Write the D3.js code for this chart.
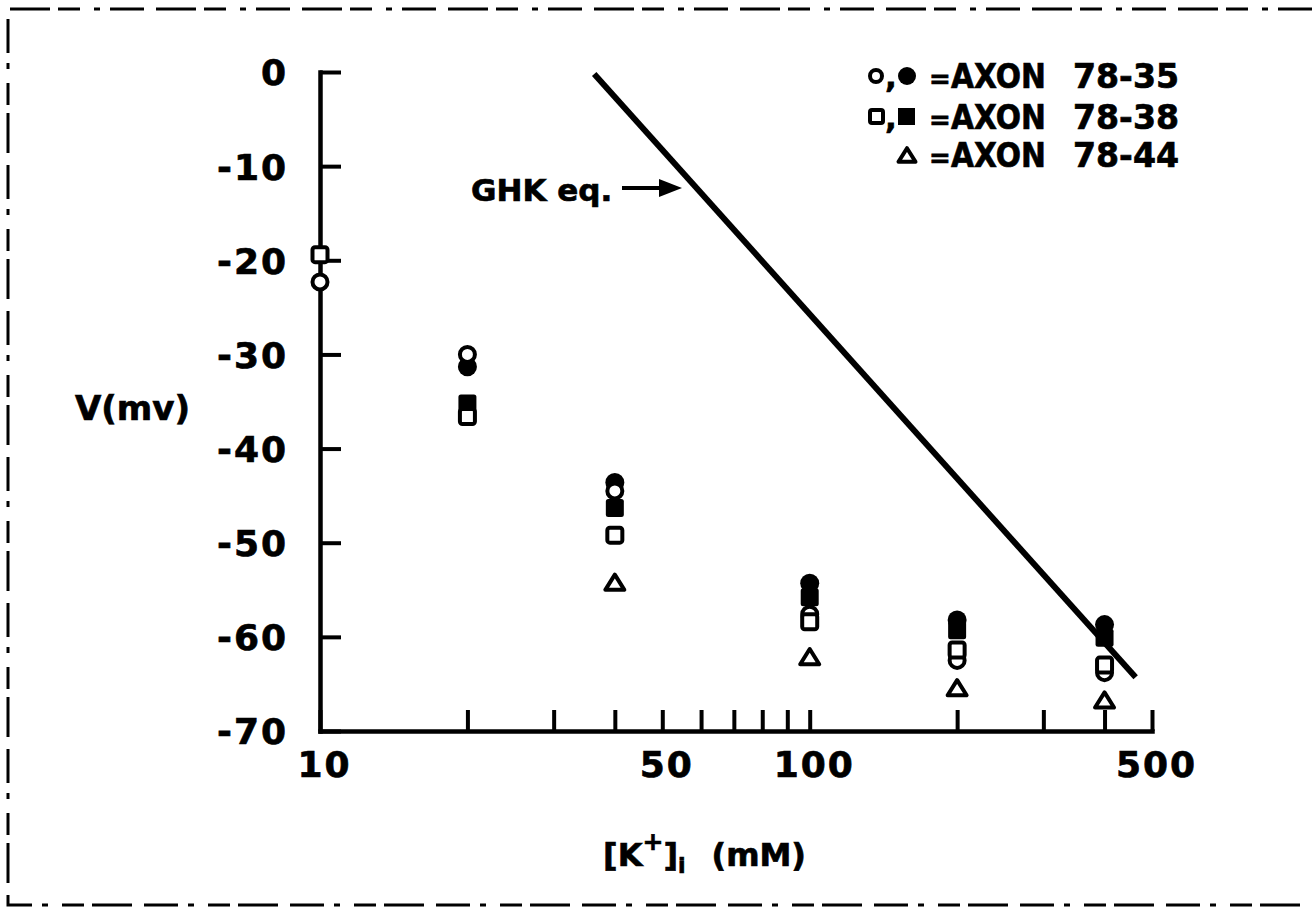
<!DOCTYPE html>
<html>
<head>
<meta charset="utf-8">
<script src="https://cdn.jsdelivr.net/npm/d3@7"></script>
<style>
  body { margin: 0; background: #fff; }
  svg { display: block; }
  text { font-family: "DejaVu Sans", sans-serif; font-weight: bold; fill: #000; stroke: #000; stroke-width: 0.7px; }
</style>
</head>
<body>
<script>
// data: [K+]i in mM, V in mV
var kTicks = [10, 20, 30, 40, 50, 60, 70, 80, 90, 100, 200, 300, 400, 500];
var kLabels = [10, 50, 100, 500];
var vTicks = [0, -10, -20, -30, -40, -50, -60, -70];

// axon 78-35
var k35Open = [10, 20, 40, 100, 200, 400];
var v35Open = [-22.3, -30.0, -44.5, -57.6, -62.5, -63.8];
var k35Fill = [20, 40, 100, 200, 400];
var v35Fill = [-31.3, -43.6, -54.3, -58.2, -58.7];
// axon 78-38
var k38Open = [10, 20, 40, 100, 200, 400];
var v38Open = [-19.4, -36.6, -49.2, -58.4, -61.4, -63.0];
var k38Fill = [20, 40, 100, 200, 400];
var v38Fill = [-35.2, -46.3, -55.8, -59.3, -60.1];
// axon 78-44
var k44 = [40, 100, 200, 400];
var v44 = [-54.2, -62.1, -65.4, -66.7];
// GHK equation line
var kGhk = [36.3, 463];
var vGhk = [-0.2, -64.3];

var legendIds = ['78-35', '78-38', '78-44'];

var width = 1312, height = 923;
var svg = d3.select('body').append('svg').attr('width', width).attr('height', height);

// scanned page border
svg.append('path')
  .attr('d', 'M1312,9 L8,9 L8,905 L1312,905')
  .attr('fill', 'none').attr('stroke', '#000').attr('stroke-width', 3)
  .attr('stroke-dasharray', '34 10 6 14 22 8 40 12');

var x = d3.scaleLog().domain([10, 500]).range([320, 1152]);
var y = d3.scaleLinear().domain([-70, 0]).range([731, 72]);

// y axis
var yAxis = d3.axisLeft(y).tickValues(vTicks).tickSizeInner(-21).tickSizeOuter(0).tickPadding(32)
  .tickFormat(function(d) { return d === 0 ? '0' : '-' + Math.abs(d); });
var gy = svg.append('g').attr('transform', 'translate(' + x(10) + ',0)').call(yAxis);

// x axis
var xAxis = d3.axisBottom(x).tickValues(kTicks).tickSizeInner(-21).tickSizeOuter(0).tickPadding(20)
  .tickFormat(function(d) { return kLabels.indexOf(d) >= 0 ? d : ''; });
var gx = svg.append('g').attr('transform', 'translate(0,' + y(-70) + ')').call(xAxis);

[gx, gy].forEach(function(g) {
  g.selectAll('.domain').attr('stroke', '#000').attr('stroke-width', 4.5).attr('stroke-linecap', 'square');
  g.selectAll('.tick line').attr('stroke', '#000').attr('stroke-width', 4);
  g.selectAll('.tick text').style('font-size', '36px').style('font-family', '"DejaVu Sans", sans-serif')
    .style('font-weight', 'bold').style('letter-spacing', '2px').attr('fill', '#000')
    .attr('stroke', '#000').attr('stroke-width', 0.7);
});
gx.selectAll('.tick text').attr('dx', 4);
gy.selectAll('.tick text').attr('dy', '0.36em');

// GHK line
var line = d3.line().x(function(d) { return x(d[0]); }).y(function(d) { return y(d[1]); });
svg.append('path')
  .attr('d', line(d3.zip(kGhk, vGhk)))
  .attr('fill', 'none').attr('stroke', '#000').attr('stroke-width', 6);

// markers
function zipPts(ks, vs) { return d3.zip(ks, vs); }
function circles(pts, filled) {
  svg.append('g').selectAll('circle').data(pts).join('circle')
    .attr('cx', function(d) { return x(d[0]); })
    .attr('cy', function(d) { return y(d[1]); })
    .attr('r', filled ? 9.5 : 7.5)
    .attr('fill', filled ? '#000' : '#fff')
    .attr('stroke', '#000').attr('stroke-width', filled ? 0 : 4);
}
function squares(pts, filled) {
  var s = filled ? 18 : 15;
  svg.append('g').selectAll('rect').data(pts).join('rect')
    .attr('x', function(d) { return x(d[0]) - s / 2; })
    .attr('y', function(d) { return y(d[1]) - s / 2; })
    .attr('width', s).attr('height', s).attr('rx', 2.5)
    .attr('fill', filled ? '#000' : '#fff')
    .attr('stroke', '#000').attr('stroke-width', filled ? 0 : 4);
}
function triPath(cx, cy, s) {
  var h = s * 0.8;
  return 'M' + cx + ',' + (cy - h / 2) + 'L' + (cx + s / 2) + ',' + (cy + h / 2) + 'L' + (cx - s / 2) + ',' + (cy + h / 2) + 'Z';
}
function triangles(pts) {
  svg.append('g').selectAll('path').data(pts).join('path')
    .attr('d', function(d) { return triPath(x(d[0]), y(d[1]), 19); })
    .attr('fill', '#fff').attr('stroke', '#000').attr('stroke-width', 4)
    .attr('stroke-linejoin', 'round');
}

circles(zipPts(k35Fill, v35Fill), true);
squares(zipPts(k38Fill, v38Fill), true);
circles(zipPts(k35Open, v35Open), false);
squares(zipPts(k38Open, v38Open), false);
triangles(zipPts(k44, v44));

// axis titles
svg.append('text').attr('x', 75).attr('y', 420).style('font-size', '34px').text('V(mv)');

var xt = svg.append('text').attr('x', 603).attr('y', 866).style('font-size', '32px');
xt.append('tspan').text('[K');
xt.append('tspan').attr('dy', -16).style('font-size', '25px').text('+');
xt.append('tspan').attr('dy', 16).text(']');
xt.append('tspan').attr('dy', 7).style('font-size', '22px').text('i');
xt.append('tspan').attr('dy', -7).attr('dx', 26).text('(mM)');

// GHK annotation
svg.append('text').attr('x', 471).attr('y', 201).style('font-size', '31px').text('GHK eq.');
svg.append('line').attr('x1', 622).attr('y1', 188).attr('x2', 664).attr('y2', 188)
  .attr('stroke', '#000').attr('stroke-width', 4);
svg.append('path').attr('d', 'M682,188 L659,179 L659,197 Z').attr('fill', '#000');

// legend
var legendY = [88, 129, 167];
var lg = svg.append('g');
legendIds.forEach(function(t, i) {
  lg.append('text').attr('x', 929).attr('y', legendY[i]).style('font-size', '26px').text('=');
  lg.append('text').attr('x', 951).attr('y', legendY[i]).style('font-size', '33px')
    .attr('textLength', 95).attr('lengthAdjust', 'spacingAndGlyphs').text('AXON');
  lg.append('text').attr('x', 1073).attr('y', legendY[i]).style('font-size', '33px')
    .attr('textLength', 106).attr('lengthAdjust', 'spacingAndGlyphs').text(t);
});
// legend symbols
lg.append('circle').attr('cx', 876).attr('cy', legendY[0] - 12).attr('r', 6)
  .attr('fill', '#fff').attr('stroke', '#000').attr('stroke-width', 4);
lg.append('text').attr('x', 885).attr('y', legendY[0]).style('font-size', '31px').text(',');
lg.append('circle').attr('cx', 907).attr('cy', legendY[0] - 12).attr('r', 9).attr('fill', '#000');
lg.append('rect').attr('x', 870).attr('y', legendY[1] - 19).attr('width', 13).attr('height', 13).attr('rx', 2)
  .attr('fill', '#fff').attr('stroke', '#000').attr('stroke-width', 4);
lg.append('text').attr('x', 885).attr('y', legendY[1]).style('font-size', '31px').text(',');
lg.append('rect').attr('x', 898).attr('y', legendY[1] - 21).attr('width', 17).attr('height', 17).attr('fill', '#000');
lg.append('path').attr('d', triPath(907, legendY[2] - 12, 17))
  .attr('fill', '#fff').attr('stroke', '#000').attr('stroke-width', 4).attr('stroke-linejoin', 'round');
</script>
</body>
</html>
